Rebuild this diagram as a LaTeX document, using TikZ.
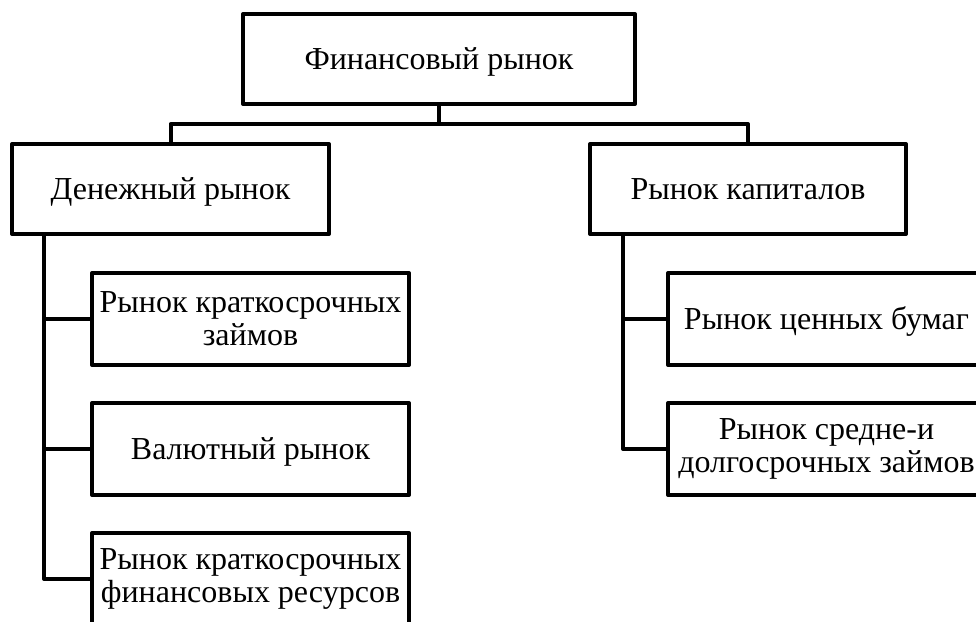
\documentclass[tikz,border=0pt]{standalone}
\usepackage{fontspec}
\setmainfont{Liberation Serif}
\newfontfamily\boxfont{Liberation Serif}
\begin{document}
\begin{tikzpicture}[x=1pt,y=-1pt,
  box/.style={draw=black, line width=4pt, line join=round, fill=white, inner sep=0pt,
    align=center, font=\boxfont\fontsize{32}{33}\selectfont},
  one/.style={text height=21pt, text depth=0pt},
  conn/.style={draw=black, line width=4pt, line join=round}]
\clip (0,0) rectangle (976,621);
\useasboundingbox (0,0) rectangle (976,621);
\fill[white] (0,0) rectangle (976,621);
% nodes
\node[box, one, minimum width=392pt, minimum height=90pt] (top) at (439,59) {Финансовый рынок};
\node[box, one, minimum width=317pt, minimum height=90pt] (den) at (170.5,189) {Денежный рынок};
\node[box, one, minimum width=316pt, minimum height=90pt] (cap) at (748,189) {Рынок капиталов};
\node[box, minimum width=317pt, minimum height=92pt] (c1) at (250.5,319) {Рынок краткосрочных\\займов};
\node[box, one, minimum width=317pt, minimum height=92pt] (c2) at (250.5,449) {Валютный рынок};
\node[box, minimum width=317pt, minimum height=92pt] (c3) at (250.5,579) {Рынок краткосрочных\\финансовых ресурсов};
\node[box, one, minimum width=317pt, minimum height=92pt] (r1) at (826.5,319) {Рынок ценных бумаг};
\node[box, minimum width=317pt, minimum height=92pt] (r2) at (826.5,449) {Рынок средне-и\\долгосрочных займов};
% junction coordinates
\coordinate (j) at (439,124);
\coordinate (ls) at (44,234);
\coordinate (rs) at (623,234);
% connectors
\draw[conn] (top.south) -- (j) -| (den.north);
\draw[conn] (j) -| (cap.north);
\draw[conn] (ls) |- (c1.west);
\draw[conn] (ls) |- (c2.west);
\draw[conn] (ls) |- (c3.west);
\draw[conn] (rs) |- (r1.west);
\draw[conn] (rs) |- (r2.west);
\end{tikzpicture}
\end{document}
